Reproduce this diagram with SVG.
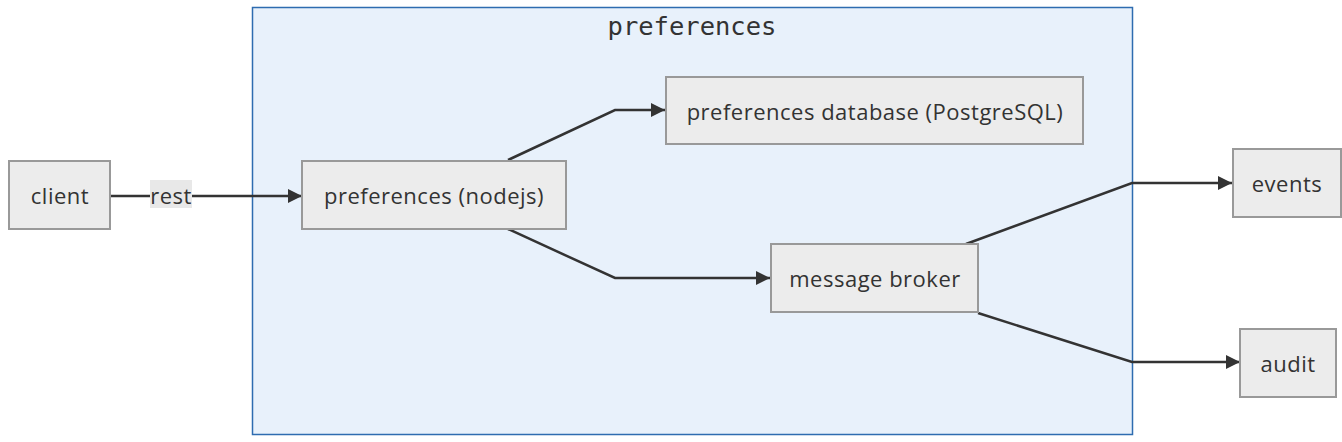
<svg xmlns="http://www.w3.org/2000/svg" width="1342" height="442" viewBox="0 0 1342 442">
<style>
.node rect{fill:#ececec;stroke:#999999;stroke-width:2}
.node text{font-family:"Open Sans","DejaVu Sans",sans-serif;font-size:22px;letter-spacing:0.5px;fill:#333333;text-anchor:middle;dominant-baseline:central}
.edge{fill:none;stroke:#333333;stroke-width:2.5}
.cluster rect{fill:#e8f1fb;stroke:#2e6cb0;stroke-width:1.5}
.cluster text{font-family:"DejaVu Sans Mono",monospace;font-size:25.5px;fill:#333333;text-anchor:middle}
.elabel{font-family:"Open Sans","DejaVu Sans",sans-serif;font-size:22px;letter-spacing:0.5px;fill:#333333;text-anchor:middle;dominant-baseline:central}
</style>
<defs>
<marker id="arrow" viewBox="0 0 10 10" refX="10" refY="5" markerWidth="14" markerHeight="16" markerUnits="userSpaceOnUse" orient="auto">
<path d="M0,0 L10,5 L0,10 z" fill="#333333"/>
</marker>
</defs>
<rect width="1342" height="442" fill="#ffffff"/>
<g id="cluster-preferences" class="cluster">
<rect x="252.5" y="7.5" width="880" height="427"/>
<text x="692" y="35">preferences</text>
</g>
<g id="connectors">
<path class="edge" d="M110,196 L302,196" marker-end="url(#arrow)"/>
<path class="edge" d="M508,160 L615,110 L665,110" marker-end="url(#arrow)"/>
<path class="edge" d="M508,229 L615,278 L770,278" marker-end="url(#arrow)"/>
<path class="edge" d="M966,244 L1132,183 L1232,183" marker-end="url(#arrow)"/>
<path class="edge" d="M978,313 L1132,362 L1240,362" marker-end="url(#arrow)"/>
<rect x="150" y="180" width="42" height="28" fill="#e8e8e8"/>
<text class="elabel" x="171" y="195">rest</text>
</g>
<g id="client" class="node">
<rect x="9" y="161" width="101" height="68"/>
<text x="60" y="195">client</text>
</g>
<g id="preferences-nodejs" class="node">
<rect x="302" y="161" width="264" height="68"/>
<text x="434" y="195">preferences (nodejs)</text>
</g>
<g id="preferences-database" class="node">
<rect x="666" y="77" width="417" height="67"/>
<text x="875" y="111">preferences database (PostgreSQL)</text>
</g>
<g id="message-broker" class="node">
<rect x="771" y="244" width="207" height="68"/>
<text x="875" y="278">message broker</text>
</g>
<g id="events" class="node">
<rect x="1233" y="149" width="108" height="68"/>
<text x="1287" y="183">events</text>
</g>
<g id="audit" class="node">
<rect x="1240" y="329" width="96" height="68"/>
<text x="1288" y="363">audit</text>
</g>
</svg>
